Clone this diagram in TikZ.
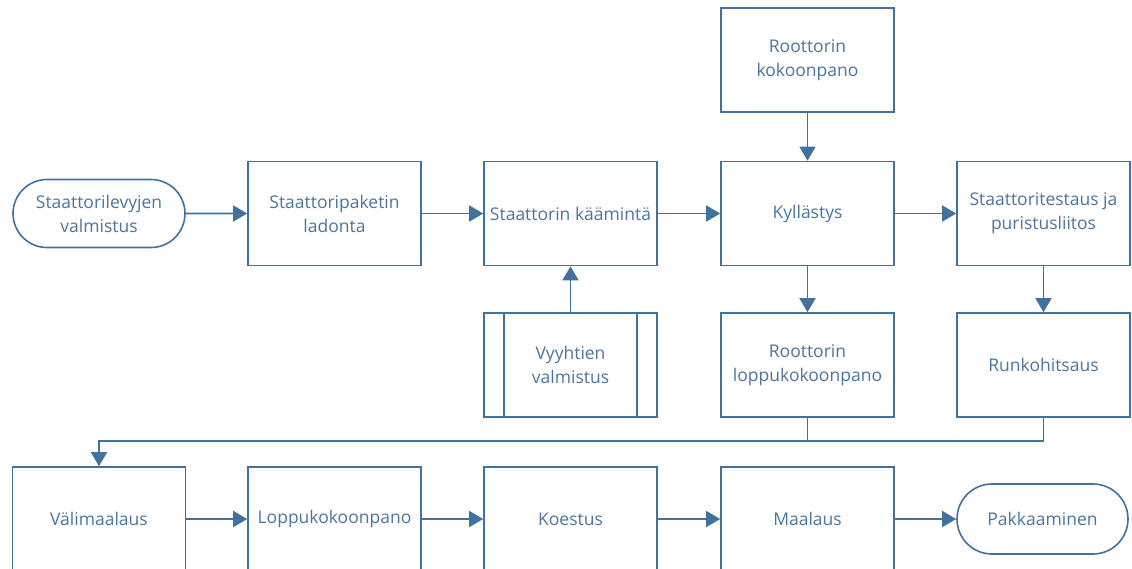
\documentclass[tikz,border=0pt]{standalone}
\usepackage{fontspec}
\setmainfont{Open Sans}
\usetikzlibrary{arrows.meta,shapes.misc}
\definecolor{flowline}{HTML}{41719C}
\definecolor{flowtext}{HTML}{4A76A0}
\tikzset{
  x=1pt, y=-1pt,
  base/.style={draw=flowline, line width=1.6pt, fill=white, text=flowtext,
    font=\fontsize{17.5}{24}\selectfont, align=center, inner sep=0pt},
  proc/.style={base, rectangle, minimum width=173pt, minimum height=104pt},
  term/.style={base, rounded rectangle, minimum width=172pt, minimum height=68pt},
  flow/.style={draw=flowline, line width=1.6pt, -{Triangle[length=14pt,width=16pt]}},
  link/.style={draw=flowline, line width=1.6pt},
}
\begin{document}
\begin{tikzpicture}
\useasboundingbox (0,0) rectangle (1132,568);
\begin{scope}
\clip (0,0) rectangle (1132,568);
% top row
\node[proc] (rk) at (807.5,60) {Roottorin\\kokoonpano};
% main row
\node[term] (slv) at (99,213.5) {Staattorilevyjen\\valmistus};
\node[proc] (spl) at (334.5,213.5) {Staattoripaketin\\ladonta};
\node[proc] (sk) at (570.5,213.5) {Staattorin käämintä};
\node[proc] (ky) at (807.5,213.5) {Kyllästys};
\node[proc] (st) at (1043.5,213.5) {Staattoritestaus ja\\puristusliitos};
% second row
\node[proc] (vv) at (570.5,365) {Vyyhtien\\valmistus};
\draw[link] ([xshift=21pt]vv.north west) -- ([xshift=21pt]vv.south west);
\draw[link] ([xshift=-21pt]vv.north east) -- ([xshift=-21pt]vv.south east);
\node[proc] (rl) at (807.5,365) {Roottorin\\loppukokoonpano};
\node[proc] (rh) at (1043.5,365) {Runkohitsaus};
% bottom row
\node[proc] (vm) at (99,519) {Välimaalaus};
\node[proc] (lk) at (334.5,519) {Loppukokoonpano};
\node[proc] (ko) at (570.5,519) {Koestus};
\node[proc] (ma) at (807.5,519) {Maalaus};
\node[term, minimum width=171pt, minimum height=70pt] (pk) at (1042.5,519) {Pakkaaminen};
% connectors
\draw[flow] (slv) -- (spl);
\draw[flow] (spl) -- (sk);
\draw[flow] (sk) -- (ky);
\draw[flow] (ky) -- (st);
\draw[flow] (rk) -- (ky);
\draw[flow] (ky) -- (rl);
\draw[flow] (st) -- (rh);
\draw[flow] (vv) -- (sk);
\coordinate (jn) at (807.5,441);
\draw[link] (rl.south) -- (jn);
\draw[flow] (rh.south) |- (jn) -| (vm.north);
\draw[flow] (vm) -- (lk);
\draw[flow] (lk) -- (ko);
\draw[flow] (ko) -- (ma);
\draw[flow] (ma) -- (pk);
\end{scope}
\end{tikzpicture}
\end{document}
